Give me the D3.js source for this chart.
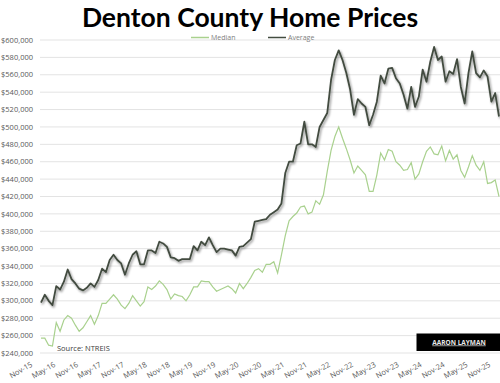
<!DOCTYPE html>
<html>
<head>
<meta charset="utf-8">
<script src="https://cdn.jsdelivr.net/npm/d3@7"></script>
<style>
  html, body { margin: 0; padding: 0; background: #fff; }
  svg { display: block; font-family: "Open Sans", sans-serif; }
</style>
</head>
<body>
<svg id="chart" width="500" height="383"></svg>
<script>
// monthly values, Nov-15 .. Nov-25 (in $1000)
const average = [298, 307, 300, 295, 317, 313, 322, 336, 325, 320, 314, 312, 315, 320, 316, 324,
  337, 333, 347, 353, 347, 343, 330, 343, 353, 357, 342, 342, 358, 358, 355, 368,
  366, 362, 350, 349, 346, 348, 348, 348, 363, 358, 368, 364, 373, 364, 356, 360,
  360, 359, 358, 352, 362, 363, 367, 371, 391, 392, 393, 394, 399, 402, 405, 412,
  447, 460, 460, 479, 481, 506, 480, 480, 477, 500, 508, 516, 554, 577, 588, 577,
  562, 543, 514, 532, 527, 523, 502, 514, 529, 559, 550, 567, 568, 556, 550, 537,
  521, 546, 523, 535, 566, 552, 575, 592, 577, 581, 552, 564, 561, 578, 546, 527,
  562, 587, 562, 557, 565, 558, 529, 539, 512]
const median = [257, 257, 249, 248, 275, 265, 278, 283, 280, 272, 265, 269, 276, 283, 273, 283,
  297, 297, 302, 307, 302, 295, 291, 297, 306, 300, 294, 299, 316, 313, 317, 323,
  319, 313, 302, 308, 306, 305, 300, 307, 316, 316, 323, 322, 322, 316, 311, 313,
  315, 317, 314, 309, 320, 314, 320, 327, 335, 337, 333, 342, 342, 345, 332, 353,
  375, 392, 397, 401, 408, 409, 400, 402, 415, 411, 422, 449, 473, 489, 500, 487,
  475, 462, 447, 455, 450, 445, 426, 426, 445, 470, 462, 474, 472, 460, 456, 450,
  451, 459, 440, 446, 460, 472, 477, 469, 468, 478, 461, 473, 463, 468, 450, 442,
  454, 467, 456, 450, 460, 435, 436, 439, 420]
const tickLabels = ["Nov-15", "May-16", "Nov-16", "May-17", "Nov-17", "May-18", "Nov-18",
  "May-19", "Nov-19", "May-20", "Nov-20", "May-21", "Nov-21", "May-22", "Nov-22",
  "May-23", "Nov-23", "May-24", "Nov-24", "May-25", "Nov-25"]
const yTicks = [240, 260, 280, 300, 320, 340, 360, 380, 400, 420, 440, 460, 480, 500,
  520, 540, 560, 580, 600]

const svg = d3.select('#chart')
const W = 500
const x = d3.scaleLinear().domain([0, average.length - 1]).range([41, 499])
const y = d3.scaleLinear().domain([240, 600]).range([353, 40])

// drop shadow for the average line
const defs = svg.append('defs')
const f = defs.append('filter').attr('id', 'shadow')
  .attr('x', '-5%').attr('y', '-5%').attr('width', '110%').attr('height', '120%')
f.append('feDropShadow').attr('dx', 1.2).attr('dy', 1.6)
  .attr('stdDeviation', 1).attr('flood-color', '#000').attr('flood-opacity', 0.45)

// title
svg.append('text')
  .attr('x', W / 2).attr('y', 26.5)
  .attr('text-anchor', 'middle')
  .style('font-family', 'Lato, "Open Sans", sans-serif')
  .style('font-size', '26.5px').style('font-weight', 700).style('fill', '#000')
  .text('Denton County Home Prices')

// gridlines + y labels
const fmt = d => '$' + d3.format(',')(d * 1000)
svg.append('g').selectAll('line').data(yTicks).join('line')
  .attr('x1', 40).attr('x2', W)
  .attr('y1', d => y(d)).attr('y2', d => y(d))
  .style('stroke', '#e3e3e3').style('stroke-width', 1)
svg.append('g').selectAll('text').data(yTicks).join('text')
  .attr('x', 33).attr('y', d => y(d)).attr('dy', '0.35em')
  .attr('text-anchor', 'end')
  .style('font-size', '7.5px').style('fill', '#595959')
  .text(fmt)

// x labels, every 6 months
svg.append('g').selectAll('text').data(tickLabels).join('text')
  .attr('transform', (d, i) => `translate(${x(i * 6) - 8},${366}) rotate(-30)`)
  .attr('text-anchor', 'end')
  .style('font-size', '7.5px').style('fill', '#595959')
  .text(d => d)

// lines
const line = d3.line().x((d, i) => x(i)).y(d => y(d))
svg.append('path').datum(median)
  .attr('d', line)
  .style('fill', 'none').style('stroke', '#a9d18e').style('stroke-width', 1.2)
svg.append('path').datum(average)
  .attr('d', line)
  .attr('filter', 'url(#shadow)')
  .style('fill', 'none').style('stroke', '#434c40').style('stroke-width', 1.8)
  .style('stroke-linejoin', 'round')

// legend
const legend = [
  { name: 'Median', color: '#a9d18e', x: 191 },
  { name: 'Average', color: '#434c40', x: 268 }
]
const lg = svg.append('g').selectAll('g').data(legend).join('g')
  .attr('transform', d => `translate(${d.x},37.5)`)
lg.append('line').attr('x1', 0).attr('x2', 18)
  .style('stroke', d => d.color).style('stroke-width', 1.5)
lg.append('text').attr('x', 20).attr('dy', '0.35em')
  .style('font-size', '7px').style('fill', '#7f7f7f')
  .text(d => d.name)

// source note
svg.append('text')
  .attr('x', 57).attr('y', 351)
  .style('font-size', '7.5px').style('fill', '#404040')
  .text('Source: NTREIS')

// badge
svg.append('rect').attr('x', 416.5).attr('y', 333.5).attr('width', 83.5).attr('height', 17.5)
  .style('fill', '#000')
svg.append('text')
  .attr('x', 459).attr('y', 344.5)
  .attr('text-anchor', 'middle')
  .style('font-size', '6.5px').style('font-weight', 700).style('fill', '#e8e8e8')
  .style('text-decoration', 'underline')
  .text('AARON LAYMAN')
</script>
</body>
</html>
